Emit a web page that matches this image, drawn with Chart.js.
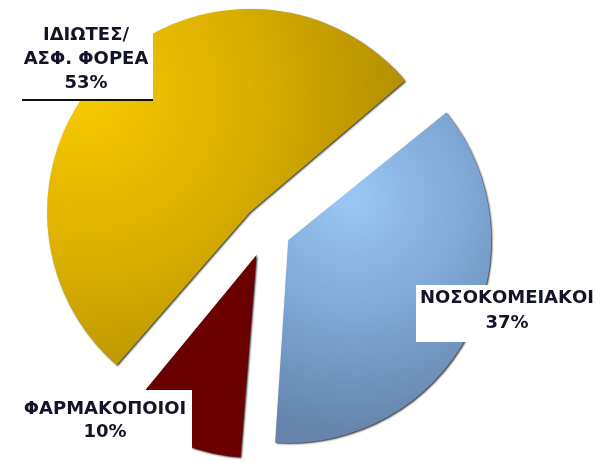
<!DOCTYPE html>
<html>
<head>
<meta charset="utf-8">
<script src="https://cdn.jsdelivr.net/npm/chart.js@4"></script>
<style>
  body { margin: 0; background: #fff; }
  canvas { display: block; }
</style>
</head>
<body>
<canvas id="shareChart" width="596" height="462"></canvas>
<script>
// Chart data
const categories = [
    ['ΙΔΙΩΤΕΣ/', 'ΑΣΦ. ΦΟΡΕΑ'],
    ['ΝΟΣΟΚΟΜΕΙΑΚΟΙ'],
    ['ΦΑΡΜΑΚΟΠΟΙΟΙ']
];
const shares = [53, 37, 10];

// Look of the slices and label boxes
const pieRadius = 203;
const sliceOffsets = [96, 96, 112];
const labelBoxes = [
    { x: 22, y: 14, w: 131, h: 86, cx: 86, lines: [35.5, 59.5, 83.5], underline: true },
    { x: 416, y: 285, w: 180, h: 57, cx: 507, lines: [298.5, 323.5] },
    { x: 10, y: 390, w: 182, h: 72, cx: 105, lines: [409.5, 432.5] }
];

function sliceFill(context) {
    const chart = context.chart;
    const area = chart.chartArea;
    const i = context.dataIndex;
    if (i === 2) return '#6b0000';
    if (!area) return i === 0 ? '#d9b000' : '#80a8d6';
    const cx = (area.left + area.right) / 2;
    const cy = (area.top + area.bottom) / 2;
    const c = chart.ctx;
    let g;
    if (i === 0) {
        g = c.createRadialGradient(cx - 165, cy - 115, 0, cx - 165, cy - 115, 340);
        g.addColorStop(0, '#f8c800');
        g.addColorStop(0.45, '#dcb100');
        g.addColorStop(1, '#ae8c00');
    } else {
        g = c.createRadialGradient(cx + 65, cy - 40, 0, cx + 65, cy - 40, 230);
        g.addColorStop(0, '#9ac7f4');
        g.addColorStop(0.5, '#7fa8d6');
        g.addColorStop(1, '#6585ac');
    }
    return g;
}

// Chart.js grows exploded slices a bit, undo that so every slice keeps the same radius
// then draws a soft shadow edge and the label boxes
const piePlugin = {
    id: 'piePlugin',
    afterDatasetUpdate(chart, args) {
        const meta = chart.getDatasetMeta(args.index);
        meta.data.forEach(arc => {
            const off = (arc.options.offset || 0) / 4;
            const fix = 1 - Math.sin(Math.min(Math.PI, arc.circumference));
            arc.outerRadius = pieRadius - off * fix;
        });
    },
    beforeDatasetsDraw(chart) {
        const c = chart.ctx;
        c.save();
        c.shadowColor = 'rgba(0, 0, 0, 0.8)';
        c.shadowOffsetX = 1;
        c.shadowOffsetY = 1;
        c.shadowBlur = 2;
    },
    afterDatasetsDraw(chart) {
        const c = chart.ctx;
        c.restore();
        c.save();
        c.font = 'bold 18px "DejaVu Sans", Verdana, sans-serif';
        c.textAlign = 'center';
        c.textBaseline = 'middle';
        labelBoxes.forEach((box, i) => {
            c.fillStyle = '#ffffff';
            c.fillRect(box.x, box.y, box.w, box.h);
            if (box.underline) {
                c.fillStyle = '#111';
                c.fillRect(box.x, box.y + box.h - 1, box.w, 2);
            }
            const lines = categories[i].concat([shares[i] + '%']);
            c.fillStyle = '#141428';
            lines.forEach((t, j) => c.fillText(t, box.cx, box.lines[j]));
        });
        c.restore();
    }
};

const ctx = document.getElementById('shareChart').getContext('2d');
const shareChart = new Chart(ctx, {
    type: 'pie',
    data: {
        labels: categories.map(l => l.join(' ')),
        datasets: [{
            data: shares,
            backgroundColor: sliceFill,
            borderWidth: 0,
            offset: sliceOffsets,
            radius: pieRadius,
            clip: false
        }]
    },
    options: {
        responsive: false,
        animation: false,
        rotation: 220,
        layout: {
            padding: { left: 0, right: 62, top: 0, bottom: 4 }
        },
        plugins: {
            legend: { display: false },
            tooltip: { enabled: false }
        }
    },
    plugins: [piePlugin]
});
</script>
</body>
</html>
